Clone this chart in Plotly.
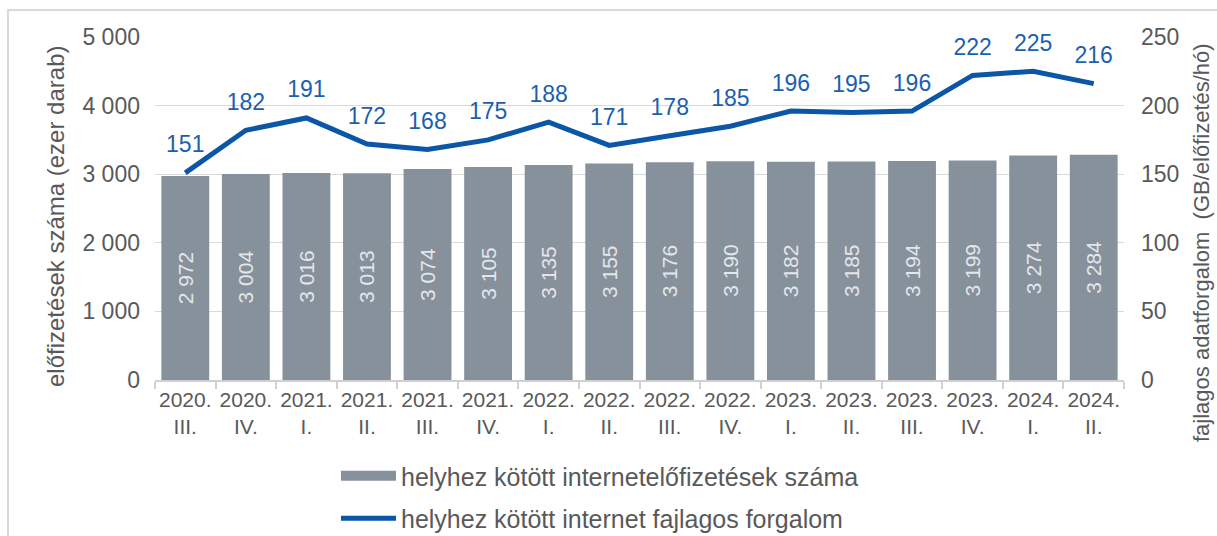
import plotly.graph_objects as go

categories = ["2020.<br>III.", "2020.<br>IV.", "2021.<br>I.", "2021.<br>II.", "2021.<br>III.", "2021.<br>IV.",
              "2022.<br>I.", "2022.<br>II.", "2022.<br>III.", "2022.<br>IV.", "2023.<br>I.", "2023.<br>II.",
              "2023.<br>III.", "2023.<br>IV.", "2024.<br>I.", "2024.<br>II."]
subscriptions = [2972, 3004, 3016, 3013, 3074, 3105, 3135, 3155, 3176, 3190, 3182, 3185, 3194, 3199, 3274, 3284]
traffic = [151, 182, 191, 172, 168, 175, 188, 171, 178, 185, 196, 195, 196, 222, 225, 216]

FONT = "Liberation Sans, Arial, sans-serif"
GREY_TXT = "#595959"
BAR_COLOR = "#87919c"
LINE_COLOR = "#0b56a6"
BAR_NAME = "helyhez kötött internetelőfizetések száma"
LINE_NAME = "helyhez kötött internet fajlagos forgalom"

fig = go.Figure()
fig.add_trace(go.Bar(
    x=categories, y=subscriptions, name=BAR_NAME,
    legendgroup="a", showlegend=False,
    marker=dict(color=BAR_COLOR, line=dict(width=0)),
    texttemplate="%{y:,d}", textposition="inside", insidetextanchor="middle", textangle=-90,
    textfont=dict(color="#e3e6ea", size=21, family=FONT),
    yaxis="y",
))
# legend-only entry giving the bar series a wide rectangular key
fig.add_trace(go.Scatter(
    x=[None], y=[None], name=BAR_NAME, legendgroup="a", showlegend=True,
    mode="lines", line=dict(color=BAR_COLOR, width=12), yaxis="y", hoverinfo="skip",
))
fig.add_trace(go.Scatter(
    x=categories, y=traffic, name=LINE_NAME,
    legendgroup="b",
    mode="lines+markers+text", line=dict(color=LINE_COLOR, width=5),
    marker=dict(size=22, color="rgba(0,0,0,0)"),
    text=[str(v) for v in traffic], textposition="top center",
    textfont=dict(color="#1b5fae", size=23, family=FONT),
    yaxis="y2", cliponaxis=False,
))

W, H = 1217, 536
L, R, T, B = 155, 1217 - 1124, 37, 536 - 380
pw, ph = W - L - R, H - T - B

def px(xp):
    return (xp - L) / pw

def py(yp):
    return (H - B - yp) / ph

fig.update_layout(
    width=W, height=H,
    margin=dict(l=L, r=R, t=T, b=B, autoexpand=False),
    paper_bgcolor="white", plot_bgcolor="white",
    separators=", ",
    font=dict(family=FONT, color=GREY_TXT, size=21),
    bargap=0.21,
    showlegend=True,
    legend=dict(
        x=px(336), y=py(453), xanchor="left", yanchor="top",
        orientation="v", font=dict(size=25, color=GREY_TXT, family=FONT),
        tracegroupgap=7, itemwidth=55,
        bgcolor="rgba(0,0,0,0)",
    ),
    xaxis=dict(
        automargin=False, range=[-0.5, len(categories) - 0.5],
        showgrid=False, showline=True, linecolor="#d0d0d0", linewidth=1.5,
        ticks="outside", tickson="boundaries", ticklen=7, tickcolor="#d0d0d0", tickwidth=1.5,
        tickfont=dict(size=21, color=GREY_TXT), tickangle=0,
    ),
    yaxis=dict(
        automargin=False,
        range=[0, 5000], dtick=1000, tickformat=",d",
        showgrid=True, gridcolor="#d9d9d9", gridwidth=1.3,
        zeroline=False, showline=False, ticklabelstandoff=14,
        tickfont=dict(size=23, color=GREY_TXT),
    ),
    yaxis2=dict(
        automargin=False,
        range=[0, 250], dtick=50, overlaying="y", side="right",
        showgrid=False, zeroline=False, showline=False, ticklabelstandoff=16,
        tickfont=dict(size=23, color=GREY_TXT),
    ),
    annotations=[
        dict(text="előfizetések száma (ezer darab)", xref="paper", yref="paper",
             x=px(56), y=py(217), xanchor="center", yanchor="middle", textangle=-90,
             showarrow=False, font=dict(size=24, color=GREY_TXT, family=FONT)),
        dict(text="fajlagos adatforgalom  (GB/előfizetés/hó)", xref="paper", yref="paper",
             x=px(1201), y=py(243), xanchor="center", yanchor="middle", textangle=-90,
             showarrow=False, font=dict(size=22, color=GREY_TXT, family=FONT)),
    ],
    shapes=[dict(
        type="rect", xref="paper", yref="paper",
        x0=px(8), x1=px(1230), y0=py(560), y1=py(10),
        line=dict(color="#d9d9d9", width=2), fillcolor="rgba(0,0,0,0)", layer="below",
    )],
)

fig.write_html("out.html", config={"displayModeBar": False},
               post_script="document.body.style.margin='0';document.body.style.overflow='hidden';")
